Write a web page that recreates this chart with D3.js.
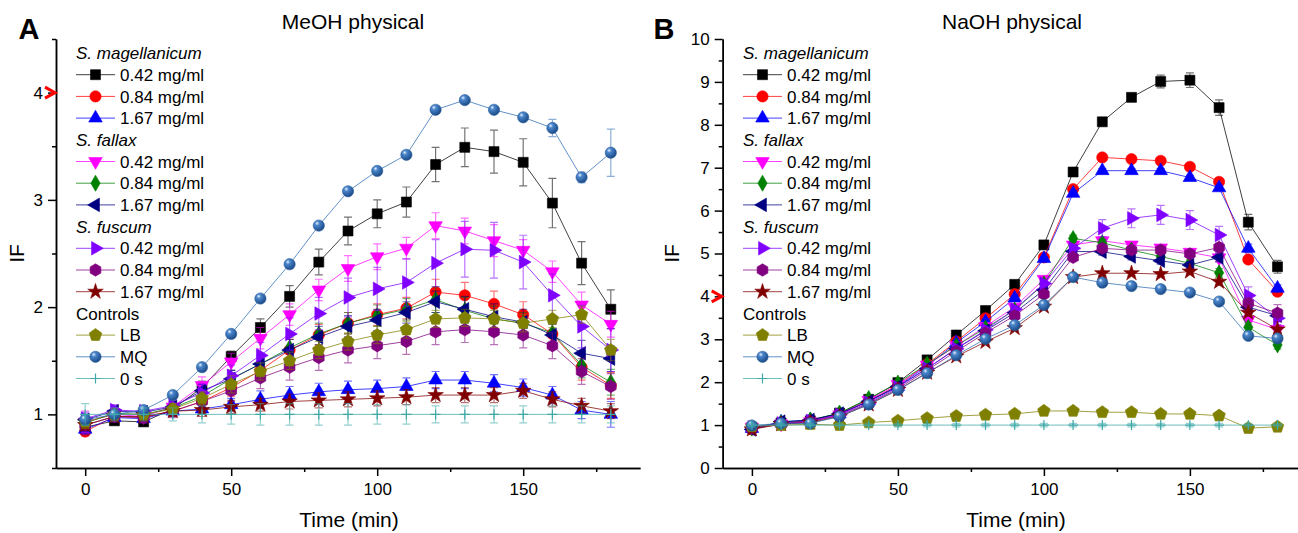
<!DOCTYPE html>
<html lang="en">
<head>
<meta charset="UTF-8">
<title>MeOH / NaOH physical</title>
<script src="https://d3js.org/d3.v7.min.js"></script>
<style>
  body { margin: 0; background: #fff; }
  svg { display: block; font-family: "Liberation Sans", Arial, sans-serif; }
  .axis path, .axis line { stroke: #000; stroke-width: 1.5px; }
  .axis text { font-size: 17px; fill: #000; font-family: "Liberation Sans", Arial, sans-serif; }
  .legend text { font-size: 17px; fill: #000; }
</style>
</head>
<body>
<svg width="1298" height="533"></svg>
<script>
// time points (min)
const times = [0, 10, 20, 30, 40, 50, 60, 70, 80, 90, 100, 110, 120, 130, 140, 150, 160, 170, 180];

// ---- A: MeOH physical ----
const meohMag042 = [0.88, 0.94, 0.93, 1.05, 1.25, 1.54, 1.81, 2.10, 2.42, 2.71, 2.87, 2.98, 3.33, 3.49, 3.45, 3.35, 2.97, 2.41, 1.98];
const meohMag084 = [0.84, 0.98, 0.97, 1.03, 1.12, 1.25, 1.41, 1.60, 1.74, 1.85, 1.93, 1.99, 2.14, 2.11, 2.03, 1.93, 1.75, 1.44, 1.27];
const meohMag167 = [0.86, 0.97, 0.96, 1.03, 1.05, 1.09, 1.14, 1.18, 1.21, 1.23, 1.24, 1.26, 1.32, 1.32, 1.29, 1.25, 1.18, 1.04, 1.00];
const meohFal042 = [0.93, 1.00, 0.98, 1.07, 1.27, 1.49, 1.71, 1.93, 2.16, 2.36, 2.47, 2.55, 2.76, 2.71, 2.62, 2.53, 2.33, 2.02, 1.84];
const meohFal084 = [0.92, 1.01, 1.00, 1.06, 1.17, 1.33, 1.47, 1.62, 1.75, 1.85, 1.92, 1.98, 2.07, 1.97, 1.89, 1.85, 1.76, 1.46, 1.30];
const meohFal167 = [0.95, 1.03, 1.02, 1.07, 1.22, 1.33, 1.47, 1.60, 1.72, 1.82, 1.88, 1.95, 2.05, 1.98, 1.91, 1.86, 1.74, 1.57, 1.52];
const meohFus042 = [0.96, 1.04, 1.03, 1.08, 1.20, 1.36, 1.55, 1.75, 1.94, 2.09, 2.17, 2.23, 2.41, 2.54, 2.53, 2.42, 2.11, 1.82, 1.60];
const meohFus084 = [0.90, 0.98, 0.97, 1.03, 1.12, 1.22, 1.34, 1.44, 1.53, 1.60, 1.64, 1.68, 1.77, 1.79, 1.77, 1.74, 1.64, 1.40, 1.26];
const meohFus167 = [0.90, 0.98, 0.98, 1.03, 1.04, 1.07, 1.09, 1.12, 1.13, 1.14, 1.15, 1.16, 1.18, 1.18, 1.18, 1.22, 1.14, 1.08, 1.03];
const meohLB     = [0.93, 1.00, 1.00, 1.05, 1.15, 1.28, 1.40, 1.50, 1.60, 1.68, 1.74, 1.79, 1.89, 1.90, 1.89, 1.85, 1.89, 1.93, 1.60];
const meohMQ     = [0.95, 1.00, 1.04, 1.18, 1.44, 1.75, 2.08, 2.40, 2.76, 3.08, 3.27, 3.42, 3.84, 3.93, 3.84, 3.77, 3.67, 3.21, 3.44];
const meoh0s     = [1.00, 1.00, 1.00, 1.00, 1.00, 1.00, 1.00, 1.00, 1.00, 1.00, 1.00, 1.00, 1.00, 1.00, 1.00, 1.00, 1.00, 1.00, 1.00];

// error bars (A)
const meohMag042Err = [0.05, 0.03, 0.03, 0.04, 0.06, 0.05, 0.08, 0.10, 0.12, 0.13, 0.13, 0.14, 0.16, 0.18, 0.20, 0.22, 0.23, 0.20, 0.18];
const meohMag084Err = [0.04, 0.04, 0.04, 0.05, 0.06, 0.08, 0.08, 0.10, 0.10, 0.10, 0.10, 0.10, 0.12, 0.12, 0.12, 0.12, 0.10, 0.12, 0.12];
const meohMag167Err = [0.05, 0.04, 0.04, 0.05, 0.05, 0.06, 0.08, 0.08, 0.08, 0.08, 0.08, 0.08, 0.08, 0.08, 0.08, 0.08, 0.08, 0.08, 0.12];
const meohFal042Err = [0.10, 0.06, 0.05, 0.06, 0.08, 0.08, 0.10, 0.10, 0.10, 0.12, 0.12, 0.10, 0.12, 0.12, 0.15, 0.10, 0.10, 0.12, 0.12];
const meohFal084Err = [0.05, 0.04, 0.04, 0.05, 0.06, 0.08, 0.08, 0.10, 0.10, 0.10, 0.10, 0.10, 0.12, 0.12, 0.12, 0.10, 0.10, 0.12, 0.12];
const meohFal167Err = [0.05, 0.04, 0.04, 0.05, 0.06, 0.08, 0.08, 0.10, 0.10, 0.10, 0.10, 0.10, 0.10, 0.12, 0.12, 0.12, 0.10, 0.12, 0.12];
const meohFus042Err = [0.06, 0.05, 0.05, 0.06, 0.08, 0.10, 0.12, 0.15, 0.15, 0.18, 0.20, 0.22, 0.22, 0.26, 0.26, 0.25, 0.20, 0.20, 0.20];
const meohFus084Err = [0.06, 0.05, 0.05, 0.06, 0.08, 0.10, 0.10, 0.12, 0.12, 0.12, 0.12, 0.12, 0.12, 0.12, 0.12, 0.12, 0.12, 0.12, 0.12];
const meohFus167Err = [0.05, 0.04, 0.04, 0.05, 0.06, 0.06, 0.06, 0.07, 0.07, 0.07, 0.07, 0.07, 0.07, 0.07, 0.07, 0.07, 0.07, 0.07, 0.07];
const meohLBErr     = [0.06, 0.05, 0.05, 0.05, 0.06, 0.08, 0.08, 0.08, 0.08, 0.08, 0.08, 0.08, 0.08, 0.08, 0.08, 0.08, 0.08, 0.08, 0.10];
const meohMQErr     = [0.05, 0.02, 0.02, 0.02, 0.02, 0.02, 0.02, 0.02, 0.02, 0.02, 0.02, 0.02, 0.03, 0.02, 0.02, 0.02, 0.08, 0.05, 0.22];
const meoh0sErr     = [0.10, 0.06, 0.06, 0.06, 0.08, 0.09, 0.10, 0.10, 0.10, 0.10, 0.09, 0.09, 0.08, 0.08, 0.08, 0.08, 0.08, 0.08, 0.08];

// ---- B: NaOH physical ----
const naohMag042 = [0.95, 1.05, 1.10, 1.28, 1.60, 1.99, 2.52, 3.10, 3.67, 4.28, 5.20, 6.90, 8.07, 8.64, 9.01, 9.04, 8.40, 5.73, 4.69];
const naohMag084 = [0.90, 1.05, 1.10, 1.25, 1.57, 1.92, 2.42, 2.95, 3.49, 4.05, 4.91, 6.50, 7.24, 7.20, 7.16, 7.02, 6.67, 4.86, 4.11];
const naohMag167 = [0.92, 1.07, 1.12, 1.26, 1.56, 1.90, 2.38, 2.92, 3.41, 3.96, 4.88, 6.40, 6.93, 6.93, 6.93, 6.77, 6.53, 5.12, 4.19];
const naohFal042 = [0.95, 1.03, 1.08, 1.24, 1.58, 1.95, 2.40, 2.85, 3.30, 3.75, 4.40, 5.20, 5.30, 5.20, 5.13, 5.03, 4.90, 3.45, 3.23];
const naohFal084 = [0.93, 1.05, 1.12, 1.28, 1.62, 1.98, 2.42, 2.85, 3.26, 3.68, 4.29, 5.35, 5.25, 5.08, 4.93, 4.77, 4.55, 3.28, 2.87];
const naohFal167 = [0.90, 1.08, 1.12, 1.27, 1.55, 1.90, 2.32, 2.78, 3.20, 3.62, 4.15, 5.05, 5.04, 4.93, 4.83, 4.73, 4.91, 3.75, 3.55];
const naohFus042 = [0.95, 1.04, 1.10, 1.24, 1.52, 1.88, 2.32, 2.78, 3.22, 3.70, 4.30, 5.12, 5.59, 5.82, 5.90, 5.78, 5.43, 4.02, 3.49];
const naohFus084 = [0.92, 1.02, 1.08, 1.22, 1.50, 1.85, 2.28, 2.72, 3.15, 3.55, 4.05, 4.91, 5.12, 5.08, 5.08, 4.99, 5.14, 3.84, 3.61];
const naohFus167 = [0.90, 1.02, 1.06, 1.20, 1.48, 1.82, 2.22, 2.60, 2.94, 3.26, 3.76, 4.45, 4.54, 4.54, 4.52, 4.58, 4.34, 3.62, 3.23];
const naohLB     = [0.97, 1.00, 1.02, 1.00, 1.06, 1.10, 1.16, 1.21, 1.24, 1.26, 1.33, 1.33, 1.30, 1.30, 1.26, 1.26, 1.22, 0.93, 0.96];
const naohMQ     = [0.99, 1.04, 1.04, 1.20, 1.48, 1.82, 2.21, 2.63, 3.01, 3.33, 3.80, 4.45, 4.32, 4.24, 4.17, 4.09, 3.88, 3.08, 3.02];
const naoh0s     = [1.00, 1.00, 1.00, 1.00, 1.00, 1.00, 1.00, 1.00, 1.00, 1.00, 1.00, 1.00, 1.00, 1.00, 1.00, 1.00, 1.00, 1.00, 1.00];

// error bars (B)
const naohMag042Err = [0.05, 0.05, 0.05, 0.05, 0.05, 0.05, 0.05, 0.05, 0.05, 0.05, 0.06, 0.08, 0.06, 0.06, 0.15, 0.17, 0.18, 0.18, 0.15];
const naohMag084Err = [0.05, 0.05, 0.05, 0.05, 0.05, 0.05, 0.05, 0.05, 0.05, 0.05, 0.05, 0.05, 0.05, 0.05, 0.05, 0.05, 0.06, 0.08, 0.08];
const naohMag167Err = [0.05, 0.05, 0.05, 0.05, 0.05, 0.05, 0.05, 0.05, 0.05, 0.05, 0.05, 0.05, 0.05, 0.05, 0.05, 0.05, 0.06, 0.10, 0.08];
const naohFal042Err = [0.05, 0.05, 0.05, 0.05, 0.05, 0.05, 0.05, 0.05, 0.05, 0.05, 0.05, 0.08, 0.08, 0.08, 0.08, 0.08, 0.10, 0.12, 0.10];
const naohFal084Err = [0.05, 0.05, 0.05, 0.05, 0.05, 0.05, 0.05, 0.05, 0.05, 0.05, 0.05, 0.08, 0.08, 0.08, 0.08, 0.08, 0.10, 0.10, 0.10];
const naohFal167Err = [0.05, 0.05, 0.05, 0.05, 0.05, 0.05, 0.05, 0.05, 0.05, 0.05, 0.05, 0.08, 0.08, 0.08, 0.08, 0.08, 0.10, 0.10, 0.10];
const naohFus042Err = [0.05, 0.05, 0.05, 0.05, 0.05, 0.05, 0.05, 0.05, 0.05, 0.05, 0.08, 0.10, 0.20, 0.22, 0.22, 0.22, 0.20, 0.20, 0.15];
const naohFus084Err = [0.05, 0.05, 0.05, 0.05, 0.05, 0.05, 0.05, 0.05, 0.05, 0.05, 0.05, 0.08, 0.08, 0.08, 0.08, 0.08, 0.10, 0.12, 0.20];
const naohFus167Err = [0.05, 0.05, 0.05, 0.05, 0.05, 0.05, 0.05, 0.05, 0.05, 0.05, 0.05, 0.05, 0.05, 0.05, 0.05, 0.06, 0.08, 0.08, 0.08];
const naohLBErr     = [0.04, 0.04, 0.04, 0.04, 0.04, 0.04, 0.04, 0.04, 0.04, 0.04, 0.04, 0.04, 0.04, 0.04, 0.04, 0.04, 0.04, 0.06, 0.04];
const naohMQErr     = [0.04, 0.04, 0.04, 0.04, 0.04, 0.04, 0.04, 0.04, 0.04, 0.04, 0.04, 0.04, 0.04, 0.04, 0.04, 0.04, 0.04, 0.04, 0.04];
const naoh0sErr     = [0.04, 0.04, 0.04, 0.04, 0.04, 0.04, 0.04, 0.04, 0.04, 0.04, 0.04, 0.04, 0.04, 0.04, 0.04, 0.04, 0.04, 0.04, 0.04];

// legend labels
const concLabels = ["0.42 mg/ml", "0.84 mg/ml", "1.67 mg/ml"];
const speciesLabels = ["S. magellanicum", "S. fallax", "S. fuscum"];
const controlLabels = ["LB", "MQ", "0 s"];

// series styles (legend order)
const styles = [
  { color: "#000000", shape: "square" },
  { color: "#ff0000", shape: "circle" },
  { color: "#0000ff", shape: "triUp" },
  { color: "#ff00ff", shape: "triDown" },
  { color: "#008000", shape: "diamond" },
  { color: "#000080", shape: "triLeft" },
  { color: "#8000ff", shape: "triRight" },
  { color: "#800080", shape: "hexagon" },
  { color: "#800000", shape: "star" },
  { color: "#808000", shape: "pentagon" },
  { color: "#2e6db4", shape: "sphere" },
  { color: "#3fa9a9", shape: "plus" }
];

const panels = [
  {
    letter: "A", title: "MeOH physical",
    values: [meohMag042, meohMag084, meohMag167, meohFal042, meohFal084, meohFal167, meohFus042, meohFus084, meohFus167, meohLB, meohMQ, meoh0s],
    errors: [meohMag042Err, meohMag084Err, meohMag167Err, meohFal042Err, meohFal084Err, meohFal167Err, meohFus042Err, meohFus084Err, meohFus167Err, meohLBErr, meohMQErr, meoh0sErr],
    xRange: [56, 640], yDomain: [0.5, 4.5],
    yMajor: [1, 2, 3, 4], yMinor: [0.5, 1.5, 2.5, 3.5, 4.5],
    legendX: 76, ifX: 17, letterX: 29, titleX: 353, xLabelX: 349
  },
  {
    letter: "B", title: "NaOH physical",
    values: [naohMag042, naohMag084, naohMag167, naohFal042, naohFal084, naohFal167, naohFus042, naohFus084, naohFus167, naohLB, naohMQ, naoh0s],
    errors: [naohMag042Err, naohMag084Err, naohMag167Err, naohFal042Err, naohFal084Err, naohFal167Err, naohFus042Err, naohFus084Err, naohFus167Err, naohLBErr, naohMQErr, naoh0sErr],
    xRange: [722.7, 1306.7], yDomain: [0, 10],
    yMajor: [0, 1, 2, 3, 4, 5, 6, 7, 8, 9, 10], yMinor: [0.5, 1.5, 2.5, 3.5, 4.5, 5.5, 6.5, 7.5, 8.5, 9.5],
    legendX: 743, ifX: 672, letterX: 664, titleX: 1012, xLabelX: 1016
  }
];

const svg = d3.select("svg");
const plotTop = 39, plotBottom = 468;

// gradient for the MQ spheres
const defs = svg.append("defs");
const grad = defs.append("radialGradient").attr("id", "sphere")
  .attr("cx", "35%").attr("cy", "30%").attr("r", "70%");
grad.append("stop").attr("offset", "0%").attr("stop-color", "#e8f0fa");
grad.append("stop").attr("offset", "28%").attr("stop-color", "#4a86cc");
grad.append("stop").attr("offset", "100%").attr("stop-color", "#1c4a86");

function polygon(n, r, rot) {
  const pts = d3.range(n).map(i => {
    const a = rot + i * 2 * Math.PI / n;
    return [r * Math.sin(a), -r * Math.cos(a)];
  });
  return "M" + pts.map(p => p.join(",")).join("L") + "Z";
}

// draws one marker into selection g (already translated)
function drawMarker(g, shape, color) {
  let d, rot = 0;
  switch (shape) {
    case "square": d = d3.symbol(d3.symbolSquare, 100)(); break;
    case "circle": d = d3.symbol(d3.symbolCircle, 100)(); break;
    case "triUp": d = d3.symbol(d3.symbolTriangle, 80)(); break;
    case "triDown": d = d3.symbol(d3.symbolTriangle, 80)(); rot = 180; break;
    case "triLeft": d = d3.symbol(d3.symbolTriangle, 80)(); rot = -90; break;
    case "triRight": d = d3.symbol(d3.symbolTriangle, 80)(); rot = 90; break;
    case "diamond": d = d3.symbol(d3.symbolDiamond, 75)(); break;
    case "hexagon": d = polygon(6, 6.2, 0); break;
    case "pentagon": d = polygon(5, 6.6, 0); break;
    case "star": d = d3.symbol(d3.symbolStar, 75)(); break;
    case "sphere": d = d3.symbol(d3.symbolCircle, 100)(); break;
    case "plus":
      g.append("path").attr("d", "M-5,0H5M0,-5V5")
        .attr("stroke", color).attr("stroke-width", 1.2).attr("fill", "none");
      return;
  }
  g.append("path").attr("d", d)
    .attr("transform", rot ? `rotate(${rot})` : null)
    .attr("fill", shape === "sphere" ? "url(#sphere)" : color)
    .attr("stroke", shape === "sphere" ? "#2a5f9e" : color)
    .attr("stroke-width", 0.6);
}

panels.forEach(p => {
  const x = d3.scaleLinear().domain([-10, 190]).range(p.xRange);
  const y = d3.scaleLinear().domain(p.yDomain).range([plotBottom, plotTop]);
  const g = svg.append("g");

  // axes
  g.append("g").attr("class", "axis").attr("transform", `translate(0,${plotBottom})`)
    .call(d3.axisBottom(x).tickValues([0, 50, 100, 150]).tickSize(8).tickSizeOuter(0).tickPadding(7));
  g.append("g").attr("class", "axis").attr("transform", `translate(0,${plotBottom})`)
    .call(d3.axisBottom(x).tickValues([25, 75, 125, 175]).tickSize(4).tickSizeOuter(0).tickFormat(""));
  g.append("g").attr("class", "axis").attr("transform", `translate(${p.xRange[0]},0)`)
    .call(d3.axisLeft(y).tickValues(p.yMajor).tickSize(8).tickSizeOuter(0).tickPadding(5).tickFormat(d3.format("d")));
  g.append("g").attr("class", "axis").attr("transform", `translate(${p.xRange[0]},0)`)
    .call(d3.axisLeft(y).tickValues(p.yMinor).tickSize(4).tickSizeOuter(0).tickFormat(""));

  // red marker at IF = 4
  const x0 = p.xRange[0], y4 = y(4);
  g.append("path").attr("d", `M${x0 - 11},${y4 - 5.5}L${x0 - 1},${y4}L${x0 - 11},${y4 + 5.5}`)
    .attr("fill", "none").attr("stroke", "#ff0000").attr("stroke-width", 3);

  // series
  const line = d3.line().x((d, i) => x(times[i])).y(d => y(d));
  p.values.forEach((vals, si) => {
    const st = styles[si];
    const errs = p.errors[si];
    const sg = g.append("g");
    sg.append("path").attr("d", line(vals))
      .attr("fill", "none").attr("stroke", st.color).attr("stroke-width", 1).attr("stroke-opacity", 0.75);
    const eb = sg.append("g").attr("stroke", st.color).attr("stroke-opacity", 0.55).attr("stroke-width", 1.2);
    vals.forEach((v, i) => {
      const cx = x(times[i]), e = errs[i];
      eb.append("path").attr("d",
        `M${cx},${y(v - e)}V${y(v + e)}M${cx - 4},${y(v + e)}H${cx + 4}M${cx - 4},${y(v - e)}H${cx + 4}`);
    });
    vals.forEach((v, i) => {
      drawMarker(sg.append("g").attr("transform", `translate(${x(times[i])},${y(v)})`), st.shape, st.color);
    });
  });

  // legend
  const rows = [];
  speciesLabels.forEach((sp, k) => {
    rows.push({ header: sp, italic: true });
    concLabels.forEach((c, j) => rows.push({ label: c, idx: k * 3 + j }));
  });
  rows.push({ header: "Controls", italic: false });
  controlLabels.forEach((c, j) => rows.push({ label: c, idx: 9 + j }));

  const lg = g.append("g").attr("class", "legend");
  rows.forEach((r, i) => {
    const ry = 53 + i * 21.7;
    if (r.header) {
      lg.append("text").attr("x", p.legendX).attr("y", ry).attr("dy", "0.36em")
        .attr("font-style", r.italic ? "italic" : null).text(r.header);
    } else {
      const st = styles[r.idx];
      lg.append("line").attr("x1", p.legendX).attr("x2", p.legendX + 39)
        .attr("y1", ry).attr("y2", ry).attr("stroke", st.color).attr("stroke-opacity", 0.75);
      drawMarker(lg.append("g").attr("transform", `translate(${p.legendX + 19.5},${ry})`), st.shape, st.color);
      lg.append("text").attr("x", p.legendX + 44).attr("y", ry).attr("dy", "0.36em").text(r.label);
    }
  });

  // titles and labels
  g.append("text").attr("x", p.titleX).attr("y", 29).attr("text-anchor", "middle")
    .attr("font-size", 21).text(p.title);
  g.append("text").attr("x", p.letterX).attr("y", 39).attr("text-anchor", "middle")
    .attr("font-size", 29).attr("font-weight", "bold").text(p.letter);
  g.append("text").attr("x", p.xLabelX).attr("y", 527).attr("text-anchor", "middle")
    .attr("font-size", 21).text("Time (min)");
  g.append("text").attr("transform", `translate(${p.ifX + 7},${(plotTop + plotBottom) / 2}) rotate(-90)`)
    .attr("text-anchor", "middle").attr("font-size", 21).text("IF");
});
</script>
</body>
</html>
